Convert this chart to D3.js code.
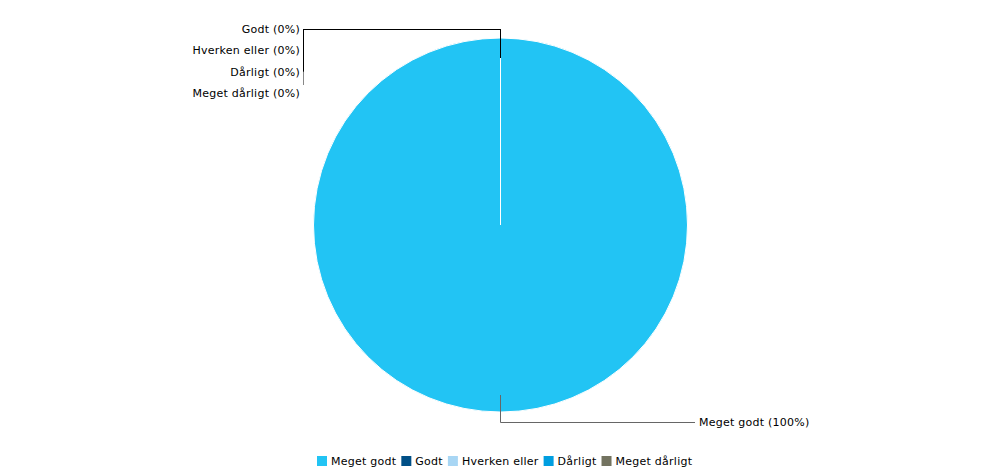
<!DOCTYPE html>
<html>
<head>
<meta charset="utf-8">
<script src="https://cdn.jsdelivr.net/npm/d3@7"></script>
<style>
  body { margin: 0; background: #fff; }
  svg { display: block; font-family: Verdana, "DejaVu Sans", sans-serif; font-size: 11px; letter-spacing: 0.25px; }
</style>
</head>
<body>
<svg id="chart" width="1000" height="471"></svg>
<script>
var categories = ["Meget godt", "Godt", "Hverken eller", "Dårligt", "Meget dårligt"];
var values = [100, 0, 0, 0, 0];
var colors = ["#22c4f4", "#004f86", "#a8d6f4", "#009ee0", "#737360"];

var svg = d3.select("#chart");
var cx = 500, cy = 225, r = 187;

var pie = d3.pie().sort(null).value(function (d) { return d; });
var arcs = pie(values);
var arc = d3.arc().innerRadius(0).outerRadius(r);

var g = svg.append("g").attr("transform", "translate(" + (cx + 0.5) + "," + cy + ")");

g.selectAll("path.slice")
  .data(arcs)
  .enter().append("path")
  .attr("class", "slice")
  .attr("d", arc)
  .attr("fill", function (d, i) { return colors[i]; })
  .attr("stroke", "#fff")
  .attr("stroke-width", 1);

// labels for the empty slices, stacked top-left
var total = d3.sum(values);
var topLabels = [];
var bottomLabels = [];
arcs.forEach(function (a, i) {
  var pct = Math.round(values[i] / total * 100);
  var item = { name: categories[i], pct: pct, i: i };
  if (values[i] === 0) topLabels.push(item); else bottomLabels.push(item);
});

var labelY = d3.scalePoint().domain(topLabels.map(function (d) { return d.name; }))
  .range([29, 93]);

var lines = svg.append("g");
topLabels.slice().reverse().forEach(function (d) {
  var y = labelY(d.name);
  var last = d === topLabels[topLabels.length - 1];
  lines.append("path")
    .attr("d", "M303.5," + (last ? y - 8 : y) + "L303.5,29.5L500.5,29.5L500.5,58")
    .attr("fill", "none")
    .attr("stroke", last ? "#888" : "#000")
    .attr("stroke-width", 1);
});

svg.append("g").selectAll("text")
  .data(topLabels)
  .enter().append("text")
  .attr("x", 300)
  .attr("y", function (d) { return labelY(d.name); })
  .attr("dy", "0.35em")
  .attr("text-anchor", "end")
  .attr("fill", "#000")
  .text(function (d) { return d.name + " (" + d.pct + "%)"; });

bottomLabels.forEach(function (d) {
  lines.append("path")
    .attr("d", "M500.5,395L500.5,422.5L695,422.5")
    .attr("fill", "none")
    .attr("stroke", "#666")
    .attr("stroke-width", 1);
  svg.append("text")
    .attr("x", 699)
    .attr("y", 422)
    .attr("dy", "0.35em")
    .attr("fill", "#000")
    .text(d.name + " (" + d.pct + "%)");
});

// legend
var legend = svg.append("g").attr("transform", "translate(0,461)");
var x = 317;
categories.forEach(function (c, i) {
  var item = legend.append("g").attr("transform", "translate(" + x + ",0)");
  item.append("rect")
    .attr("x", 0).attr("y", -5)
    .attr("width", 10).attr("height", 10)
    .attr("fill", colors[i]);
  var t = item.append("text")
    .attr("x", 14).attr("y", 0)
    .attr("dy", "0.35em")
    .attr("fill", "#000")
    .text(c);
  x += 14 + t.node().getComputedTextLength() + 5;
});
</script>
</body>
</html>
